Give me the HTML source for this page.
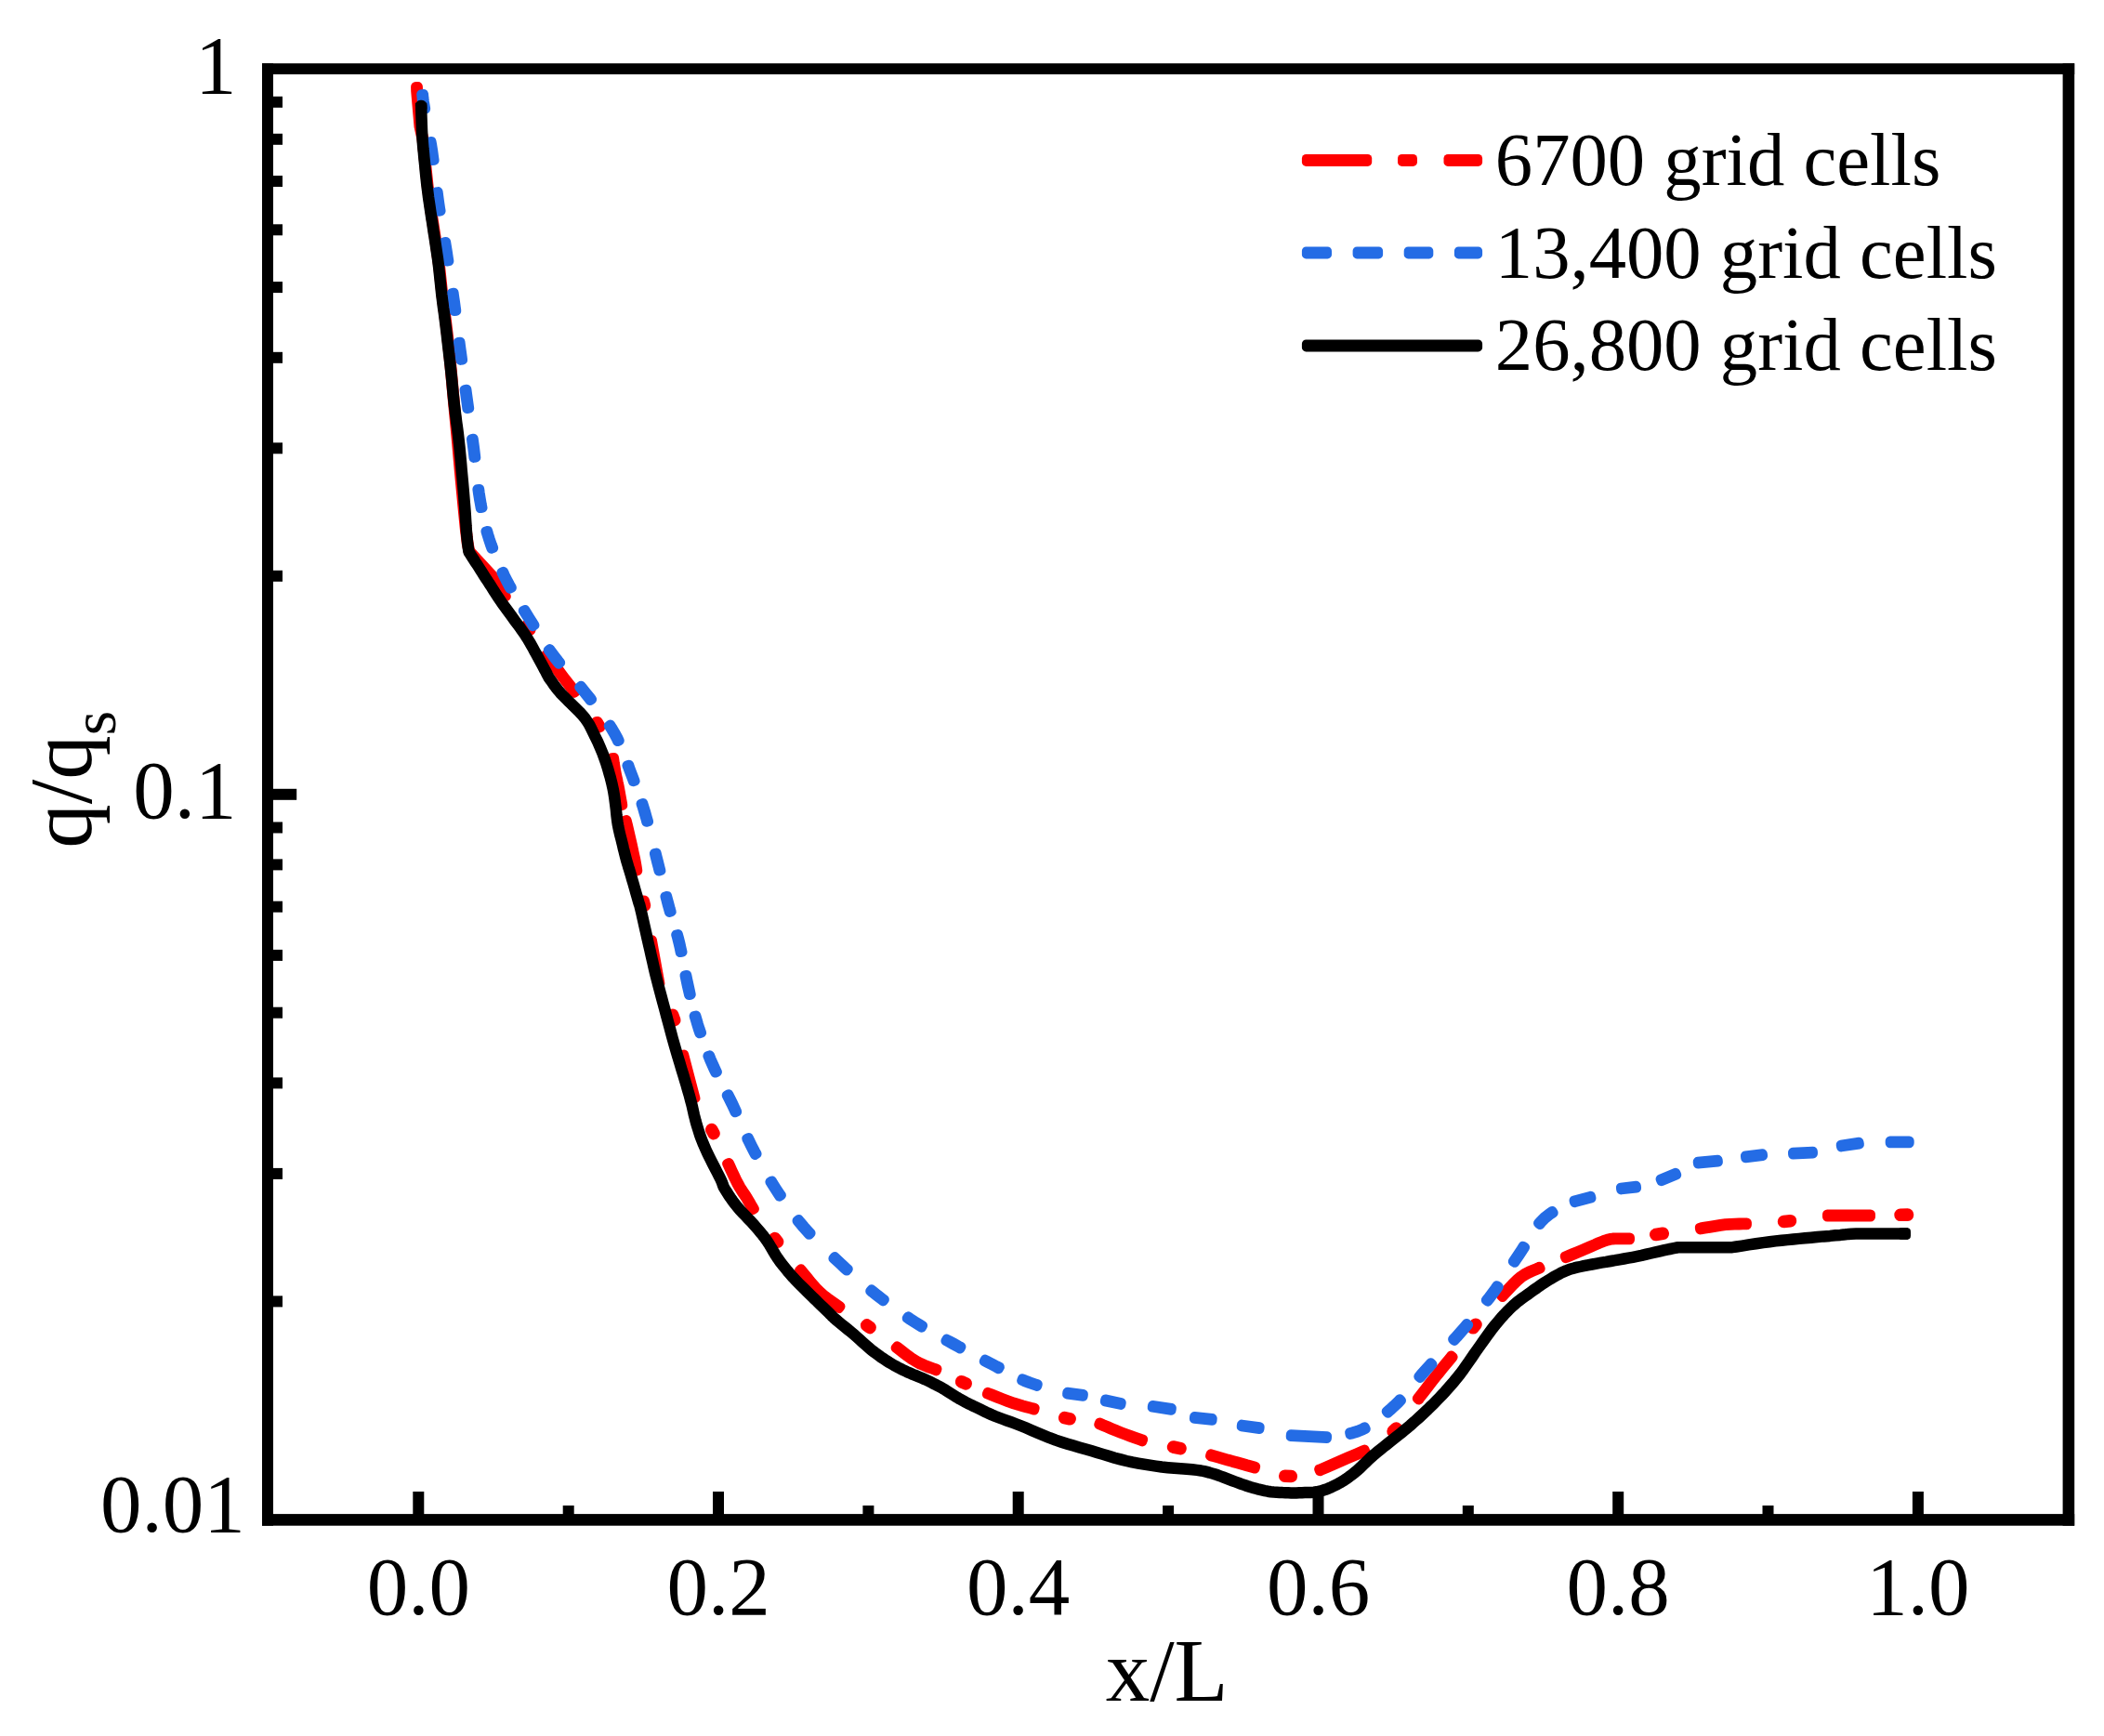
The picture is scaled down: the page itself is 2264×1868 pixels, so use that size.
<!DOCTYPE html>
<html lang="en"><head><meta charset="utf-8"><title>Grid independence: q/qs vs x/L</title>
<style>html,body{margin:0;padding:0;background:#fff}svg{display:block}</style></head>
<body>
<svg width="2264" height="1868" viewBox="0 0 2264 1868">
<rect width="2264" height="1868" fill="#fff"/>
<g id="red"><polygon points="447.3,93.2 447.4,98.1 450.7,136.1 453.8,150.2 456.2,174.1 459.2,202.7 463.2,231.2 467.6,259.8 471.6,288.1 474.6,316.8 478.3,345.1 481.7,373.8 484.1,398.1 487.5,436.1 491.1,474.1 494.5,512.1 498.1,550.1 500,569.1 502,585.2 504,594.2 528.7,620.7 542.5,643 544.6,641.8 530.5,619.3 506,592.8 504.4,584.8 502.4,568.9 500.5,549.9 496.9,511.9 493.5,473.9 489.9,435.9 486.5,397.9 484.1,373.6 480.7,344.9 477,316.6 474,287.9 470,259.4 465.6,230.8 461.6,202.5 458.6,173.9 456.2,149.8 453.1,135.9 449.8,97.9 449.7,93.2" fill="#FF0000" stroke="#FF0000" stroke-width="10.4" stroke-linejoin="round"/>
<polygon points="587.1,704.9 590.1,709.2 594.3,714.9 598.6,720.8 602.6,726.2 606.6,731.4 610.9,736.9 615,742.1 617.8,745.7 619.7,744.2 616.9,740.6 612.8,735.4 608.5,730 604.6,724.8 600.6,719.4 596.3,713.5 592.1,707.8 589,703.5" fill="#FF0000" stroke="#FF0000" stroke-width="10.4" stroke-linejoin="round"/>
<polygon points="658.4,815.5 658.6,816.9 659.3,821.3 660,825.9 660.7,830.2 661.5,834.2 662.3,838.1 663.2,842.1 664,846.1 664.8,850.2 665.7,854.8 666.5,859.9 667.4,864.8 667.7,867 670.1,866.6 669.8,864.4 668.9,859.5 668,854.4 667.2,849.8 666.4,845.6 665.5,841.6 664.7,837.6 663.8,833.7 663.1,829.8 662.4,825.5 661.6,820.9 661,816.5 660.8,815.2" fill="#FF0000" stroke="#FF0000" stroke-width="10.4" stroke-linejoin="round"/>
<polygon points="672,883 672.2,883.5 673.1,887.3 674.6,893.4 676.4,901.4 678.4,910.2 680.3,918.5 681.7,925.2 682.7,930.3 683.3,934.4 683.7,937.3 686.1,937 685.7,934.1 685,929.9 684.1,924.8 682.6,918 680.8,909.6 678.8,900.9 676.9,892.8 675.5,886.7 674.5,882.9 674.3,882.3" fill="#FF0000" stroke="#FF0000" stroke-width="10.4" stroke-linejoin="round"/>
<polygon points="699.4,1011.8 707.9,1058.7 710.2,1058.3 701.7,1011.4" fill="#FF0000" stroke="#FF0000" stroke-width="10.4" stroke-linejoin="round"/>
<polygon points="733.7,1135.3 746,1182.3 748.3,1181.7 736,1134.7" fill="#FF0000" stroke="#FF0000" stroke-width="10.4" stroke-linejoin="round"/>
<polygon points="782.3,1252.1 782.6,1252.8 784.2,1256.2 786.2,1260.7 788.5,1265.6 790.9,1270.4 793,1274.7 795.1,1278.3 797.1,1281.5 799.1,1284.5 801,1287.3 802.7,1290 804.2,1292.6 805.7,1295.1 807,1297.5 808.2,1299.6 809.3,1301.4 809.7,1302.1 811.7,1300.9 811.3,1300.2 810.3,1298.4 809.1,1296.3 807.8,1293.9 806.3,1291.4 804.7,1288.8 803,1286 801.1,1283.2 799.2,1280.2 797.1,1277 795.2,1273.5 793,1269.4 790.7,1264.5 788.4,1259.6 786.4,1255.2 784.8,1251.8 784.4,1251.1" fill="#FF0000" stroke="#FF0000" stroke-width="10.4" stroke-linejoin="round"/>
<polygon points="860.2,1367.1 860.7,1367.7 863.6,1371.2 867.5,1375.9 871.8,1381.2 876.4,1386.4 880.8,1391 885.3,1394.9 890.1,1398.6 894.8,1402 899,1405 902.2,1407.3 902.8,1407.7 904.3,1405.8 903.6,1405.3 900.4,1403 896.2,1400.1 891.5,1396.7 886.8,1393.1 882.4,1389.2 878.1,1384.8 873.6,1379.7 869.3,1374.4 865.5,1369.7 862.5,1366.1 862,1365.5" fill="#FF0000" stroke="#FF0000" stroke-width="10.4" stroke-linejoin="round"/>
<polygon points="963.8,1450.5 964.5,1451 967.6,1453.4 971.7,1456.5 976.3,1460 981.1,1463.4 985.6,1466.2 990.1,1468.5 994.9,1470.5 999.4,1472.3 1003.5,1473.7 1006.7,1474.9 1007.4,1475.2 1008.3,1473 1007.5,1472.7 1004.3,1471.5 1000.3,1470 995.7,1468.3 991.1,1466.4 986.8,1464.2 982.4,1461.4 977.7,1458.1 973.2,1454.6 969.1,1451.4 965.9,1449 965.3,1448.6" fill="#FF0000" stroke="#FF0000" stroke-width="10.4" stroke-linejoin="round"/>
<polygon points="1062,1500.2 1062.8,1500.5 1067,1502.2 1072.5,1504.3 1078.6,1506.7 1084.8,1509.1 1090.3,1511 1095.3,1512.6 1100.2,1514 1104.8,1515.3 1108.9,1516.3 1112.1,1517.2 1112.8,1517.4 1113.5,1515.1 1112.7,1514.8 1109.5,1514 1105.5,1512.9 1100.9,1511.7 1096,1510.3 1091.1,1508.8 1085.6,1506.8 1079.5,1504.5 1073.3,1502.1 1067.8,1499.9 1063.6,1498.3 1062.9,1498" fill="#FF0000" stroke="#FF0000" stroke-width="10.4" stroke-linejoin="round"/>
<polygon points="1182.4,1532.9 1183.1,1533.2 1186.6,1534.7 1191,1536.5 1196,1538.7 1201.1,1540.8 1206,1542.7 1210.8,1544.5 1215.8,1546.4 1220.7,1548.2 1225,1549.7 1228.4,1550.9 1229.1,1551.2 1230,1548.9 1229.2,1548.7 1225.8,1547.4 1221.5,1545.9 1216.6,1544.1 1211.6,1542.3 1206.8,1540.5 1202,1538.6 1196.9,1536.4 1192,1534.3 1187.5,1532.5 1184.1,1531 1183.3,1530.7" fill="#FF0000" stroke="#FF0000" stroke-width="10.4" stroke-linejoin="round"/>
<polygon points="1302.2,1566.8 1303,1567.1 1306.4,1568 1310.9,1569.3 1315.8,1570.7 1321,1572.2 1325.9,1573.6 1330.9,1574.9 1336.2,1576.4 1341.4,1577.9 1346,1579.2 1349.6,1580.2 1350.3,1580.4 1351,1578.1 1350.2,1577.8 1346.6,1576.8 1342,1575.6 1336.8,1574.1 1331.5,1572.6 1326.5,1571.2 1321.6,1569.9 1316.5,1568.4 1311.5,1567 1307.1,1565.7 1303.6,1564.7 1302.9,1564.5" fill="#FF0000" stroke="#FF0000" stroke-width="10.4" stroke-linejoin="round"/>
<polygon points="1420.2,1583.1 1421.5,1582.6 1428.8,1579.4 1439.1,1575 1450.4,1570.1 1460.6,1565.7 1468,1562.5 1469.2,1562 1468.3,1559.8 1467,1560.3 1459.7,1563.5 1449.4,1567.9 1438.1,1572.8 1427.9,1577.2 1420.5,1580.4 1419.3,1580.9" fill="#FF0000" stroke="#FF0000" stroke-width="10.4" stroke-linejoin="round"/>
<polygon points="1526.9,1506.3 1527.3,1505.6 1530.1,1502.1 1533.6,1497.6 1537.6,1492.4 1541.6,1487.2 1545.4,1482.3 1549.2,1477.7 1553.1,1472.8 1556.9,1468.2 1560.3,1464.1 1562.9,1460.9 1563.4,1460.2 1561.6,1458.7 1561.1,1459.3 1558.5,1462.5 1555.1,1466.6 1551.3,1471.3 1547.3,1476.2 1543.6,1480.9 1539.7,1485.7 1535.7,1490.9 1531.7,1496.1 1528.2,1500.7 1525.5,1504.2 1525,1504.8" fill="#FF0000" stroke="#FF0000" stroke-width="10.4" stroke-linejoin="round"/>
<polygon points="1616.8,1395.8 1617.4,1395.2 1620.4,1392 1624.4,1387.7 1628.8,1383 1633.4,1378.5 1637.5,1375 1641.6,1372.3 1645.8,1370.1 1650,1368.3 1653.7,1366.7 1656.7,1365.4 1657.5,1365 1656.4,1362.9 1655.7,1363.2 1652.8,1364.5 1649,1366.1 1644.8,1367.9 1640.4,1370.2 1636.1,1373 1631.7,1376.8 1627.1,1381.3 1622.6,1386.1 1618.7,1390.4 1615.6,1393.6 1615.1,1394.1" fill="#FF0000" stroke="#FF0000" stroke-width="10.4" stroke-linejoin="round"/>
<polygon points="1684.8,1354 1685.6,1353.7 1688.8,1352.4 1692.9,1350.7 1697.5,1348.7 1702.3,1346.7 1707,1344.8 1711.6,1342.8 1716.5,1340.6 1721.3,1338.5 1725.8,1336.7 1729.6,1335.3 1732.8,1334.6 1735.5,1334.2 1738,1334.1 1740.3,1334.1 1742.6,1334.1 1745,1334 1747.2,1334 1749.3,1334 1751.2,1334.1 1753,1334.1 1753.8,1334.1 1753.8,1331.7 1753,1331.7 1751.3,1331.7 1749.3,1331.6 1747.2,1331.6 1744.9,1331.6 1742.6,1331.7 1740.3,1331.7 1737.9,1331.7 1735.3,1331.8 1732.4,1332.2 1729,1333.1 1724.9,1334.5 1720.3,1336.3 1715.5,1338.5 1710.6,1340.6 1706,1342.6 1701.4,1344.5 1696.6,1346.5 1692,1348.4 1687.9,1350.1 1684.6,1351.5 1683.9,1351.8" fill="#FF0000" stroke="#FF0000" stroke-width="10.4" stroke-linejoin="round"/>
<polygon points="1829.4,1323.2 1830.2,1323.1 1834.3,1322.4 1839.6,1321.5 1845.5,1320.5 1851.5,1319.6 1856.8,1318.9 1861.8,1318.5 1866.7,1318.3 1871.4,1318.2 1875.6,1318.1 1878.9,1318 1879.7,1318 1879.7,1315.6 1878.9,1315.6 1875.5,1315.7 1871.4,1315.8 1866.6,1315.9 1861.6,1316.1 1856.6,1316.5 1851.1,1317.2 1845.2,1318.1 1839.2,1319.1 1833.9,1320 1829.8,1320.7 1829,1320.8" fill="#FF0000" stroke="#FF0000" stroke-width="10.4" stroke-linejoin="round"/>
<polygon points="1966.2,1309.2 2012.8,1309.2 2012.8,1306.8 1966.2,1306.8" fill="#FF0000" stroke="#FF0000" stroke-width="10.4" stroke-linejoin="round"/>
<polygon points="567,673.6 569.7,677.6 570,677.4 567.3,673.4" fill="#FF0000" stroke="#FF0000" stroke-width="13.2" stroke-linejoin="round"/>
<polygon points="642.1,777.7 644.6,781.9 644.9,781.7 642.4,777.5" fill="#FF0000" stroke="#FF0000" stroke-width="13.2" stroke-linejoin="round"/>
<polygon points="692.2,970.2 693.2,974.4 693.6,974.4 692.6,970.2" fill="#FF0000" stroke="#FF0000" stroke-width="13.2" stroke-linejoin="round"/>
<polygon points="723.5,1092.3 725.5,1097.8 725.9,1097.7 723.9,1092.2" fill="#FF0000" stroke="#FF0000" stroke-width="13.2" stroke-linejoin="round"/>
<polygon points="765.6,1215.6 767.9,1219.8 768.2,1219.6 765.9,1215.4" fill="#FF0000" stroke="#FF0000" stroke-width="13.2" stroke-linejoin="round"/>
<polygon points="833.6,1332.6 836.5,1336.4 836.8,1336.2 833.9,1332.4" fill="#FF0000" stroke="#FF0000" stroke-width="13.2" stroke-linejoin="round"/>
<polygon points="932.5,1426.1 936,1428.6 936.3,1428.3 932.8,1425.8" fill="#FF0000" stroke="#FF0000" stroke-width="13.2" stroke-linejoin="round"/>
<polygon points="1034.4,1486.9 1039.2,1489.1 1039.4,1488.7 1034.6,1486.5" fill="#FF0000" stroke="#FF0000" stroke-width="13.2" stroke-linejoin="round"/>
<polygon points="1145.5,1525.8 1151.2,1527 1151.3,1526.6 1145.6,1525.4" fill="#FF0000" stroke="#FF0000" stroke-width="13.2" stroke-linejoin="round"/>
<polygon points="1262.4,1557.2 1270.1,1558.8 1270.2,1558.4 1262.5,1556.8" fill="#FF0000" stroke="#FF0000" stroke-width="13.2" stroke-linejoin="round"/>
<polygon points="1382.6,1588.5 1389.4,1588.7 1389.4,1588.3 1382.6,1588.1" fill="#FF0000" stroke="#FF0000" stroke-width="13.2" stroke-linejoin="round"/>
<polygon points="1499.2,1540.4 1502.7,1537.1 1502.4,1536.8 1498.9,1540.1" fill="#FF0000" stroke="#FF0000" stroke-width="13.2" stroke-linejoin="round"/>
<polygon points="1585.1,1429 1588.2,1425.3 1587.9,1425 1584.8,1428.7" fill="#FF0000" stroke="#FF0000" stroke-width="13.2" stroke-linejoin="round"/>
<polygon points="1781.7,1328.7 1789.4,1327.5 1789.3,1327.1 1781.6,1328.3" fill="#FF0000" stroke="#FF0000" stroke-width="13.2" stroke-linejoin="round"/>
<polygon points="1919.4,1314.7 1926.6,1313.9 1926.6,1313.5 1919.4,1314.3" fill="#FF0000" stroke="#FF0000" stroke-width="13.2" stroke-linejoin="round"/>
<polygon points="2044.9,1307.5 2052.7,1307.3 2052.7,1306.9 2044.9,1307.1" fill="#FF0000" stroke="#FF0000" stroke-width="13.2" stroke-linejoin="round"/></g>
<g id="blue"><polygon points="453.4,101.4 453.5,101.8 453.8,105.4 454.3,109.6 455.1,114.6 455.6,117.6 458,117.2 457.5,114.2 456.7,109.2 456.2,105.1 455.9,101.6 455.8,101.3" fill="#246CE5" stroke="#246CE5" stroke-width="10.4" stroke-linejoin="round"/>
<polygon points="462,152.5 462.5,155.8 463.6,162.7 464.6,169.4 465,172.9 467.4,172.6 466.9,169.1 466,162.3 464.9,155.4 464.3,152.1" fill="#246CE5" stroke="#246CE5" stroke-width="10.4" stroke-linejoin="round"/>
<polygon points="469,206.6 469.5,210.3 470.4,217.1 471.4,223.8 472,227.5 474.4,227.1 473.8,223.5 472.8,216.7 471.9,210 471.4,206.3" fill="#246CE5" stroke="#246CE5" stroke-width="10.4" stroke-linejoin="round"/>
<polygon points="477.5,260.6 478.1,264.2 479.2,271 480.3,277.7 480.9,281.4 483.2,281 482.6,277.4 481.6,270.6 480.5,263.9 479.9,260.2" fill="#246CE5" stroke="#246CE5" stroke-width="10.4" stroke-linejoin="round"/>
<polygon points="486,315.4 486.5,318.4 487.4,325.1 488.3,331.7 488.7,334.8 491.1,334.5 490.7,331.4 489.8,324.7 488.8,318 488.4,315" fill="#246CE5" stroke="#246CE5" stroke-width="10.4" stroke-linejoin="round"/>
<polygon points="493,368.2 493.4,371.4 494.2,378 495.1,384.5 495.5,387.7 497.9,387.4 497.5,384.1 496.6,377.6 495.7,371.1 495.3,367.9" fill="#246CE5" stroke="#246CE5" stroke-width="10.4" stroke-linejoin="round"/>
<polygon points="499.8,419.4 500.3,423.1 501.2,429.6 502.1,436.1 502.6,439.8 505,439.4 504.5,435.8 503.6,429.2 502.7,422.7 502.2,419" fill="#246CE5" stroke="#246CE5" stroke-width="10.4" stroke-linejoin="round"/>
<polygon points="507.2,472.3 507.6,475.8 508.5,482.5 509.3,489.2 509.7,492.7 512.1,492.4 511.7,488.9 510.9,482.1 510,475.5 509.5,471.9" fill="#246CE5" stroke="#246CE5" stroke-width="10.4" stroke-linejoin="round"/>
<polygon points="513.6,526.5 514.1,530.4 515.1,536.7 516.2,542.7 516.9,546.9 519.3,546.4 518.5,542.3 517.5,536.3 516.5,530 516,526.2" fill="#246CE5" stroke="#246CE5" stroke-width="10.4" stroke-linejoin="round"/>
<polygon points="522.6,571.7 523.8,575.7 525.5,581.2 527.3,586.7 528.7,590.5 531,589.6 529.6,585.9 527.7,580.4 526,575 524.9,571.1" fill="#246CE5" stroke="#246CE5" stroke-width="10.4" stroke-linejoin="round"/>
<polygon points="539.6,616 541.3,619.5 543.9,624.8 546.7,630.1 548.6,633.5 550.7,632.4 548.8,629 546.1,623.8 543.4,618.5 541.8,615" fill="#246CE5" stroke="#246CE5" stroke-width="10.4" stroke-linejoin="round"/>
<polygon points="562.9,657.3 564.9,660.5 568.1,665.6 571.3,670.8 573.2,674 575.3,672.7 573.3,669.5 570.1,664.4 566.9,659.3 564.9,656.1" fill="#246CE5" stroke="#246CE5" stroke-width="10.4" stroke-linejoin="round"/>
<polygon points="589.9,699.7 591.6,702.1 595.3,707.2 599.3,712.3 601.2,714.5 603,713 601.2,710.8 597.3,705.8 593.5,700.7 591.8,698.3" fill="#246CE5" stroke="#246CE5" stroke-width="10.4" stroke-linejoin="round"/>
<polygon points="623.4,739.5 625.1,741.6 629.3,746.7 633.3,751.8 635,753.9 636.9,752.5 635.2,750.3 631.1,745.1 627,740.1 625.2,738" fill="#246CE5" stroke="#246CE5" stroke-width="10.4" stroke-linejoin="round"/>
<polygon points="654.9,781 656.8,783.9 660,789.3 662.8,794.6 664.4,797.9 666.6,796.9 665,793.5 662,788.1 658.8,782.7 656.9,779.7" fill="#246CE5" stroke="#246CE5" stroke-width="10.4" stroke-linejoin="round"/>
<polygon points="674.6,823.7 675.9,827 677.9,832.4 679.9,837.7 681.2,841.1 683.4,840.3 682.1,836.8 680.1,831.6 678.1,826.2 676.9,822.9" fill="#246CE5" stroke="#246CE5" stroke-width="10.4" stroke-linejoin="round"/>
<polygon points="689.7,864.9 691,868.9 692.7,874.7 694.5,880.9 695.5,884.6 697.9,884 696.8,880.3 695.1,874.1 693.3,868.2 692,864.2" fill="#246CE5" stroke="#246CE5" stroke-width="10.4" stroke-linejoin="round"/>
<polygon points="704.1,918.4 704.8,921.5 706.4,927.9 708,934 708.8,937.4 711.2,936.8 710.3,933.4 708.8,927.3 707.2,921 706.4,917.8" fill="#246CE5" stroke="#246CE5" stroke-width="10.4" stroke-linejoin="round"/>
<polygon points="715.6,964.7 716.4,967.7 717.8,973.2 719.3,978.6 720.2,981.7 722.5,981 721.6,978 720.2,972.6 718.7,967.1 717.9,964.1" fill="#246CE5" stroke="#246CE5" stroke-width="10.4" stroke-linejoin="round"/>
<polygon points="727.4,1005.9 728.5,1010 729.8,1015.4 731.1,1020.9 731.9,1024.9 734.3,1024.4 733.4,1020.3 732.2,1014.8 730.8,1009.4 729.7,1005.3" fill="#246CE5" stroke="#246CE5" stroke-width="10.4" stroke-linejoin="round"/>
<polygon points="736.7,1049.7 737.7,1054.7 738.9,1060.3 740.1,1065.7 741.3,1070.8 743.6,1070.3 742.5,1065.2 741.3,1059.7 740.1,1054.2 739.1,1049.2" fill="#246CE5" stroke="#246CE5" stroke-width="10.4" stroke-linejoin="round"/>
<polygon points="746.8,1093.3 748,1097.4 749.6,1102.8 751.2,1108.1 752.6,1112.1 754.9,1111.3 753.5,1107.3 751.8,1102 750.3,1096.8 749.1,1092.7" fill="#246CE5" stroke="#246CE5" stroke-width="10.4" stroke-linejoin="round"/>
<polygon points="761.6,1136.4 763.1,1140.2 765.4,1145.5 767.8,1150.8 769.5,1154.4 771.7,1153.4 770,1149.8 767.6,1144.5 765.3,1139.2 763.8,1135.5" fill="#246CE5" stroke="#246CE5" stroke-width="10.4" stroke-linejoin="round"/>
<polygon points="781.9,1178.6 783.8,1182.4 786.5,1187.8 789.1,1193.4 790.8,1197.1 793,1196.2 791.3,1192.4 788.7,1186.8 786,1181.3 784.1,1177.5" fill="#246CE5" stroke="#246CE5" stroke-width="10.4" stroke-linejoin="round"/>
<polygon points="803.4,1225.2 804.9,1228.3 807.7,1234 810.7,1239.8 812.3,1242.8 814.4,1241.6 812.8,1238.7 809.9,1233 807,1227.2 805.6,1224.2" fill="#246CE5" stroke="#246CE5" stroke-width="10.4" stroke-linejoin="round"/>
<polygon points="828.6,1271.8 830.1,1274.2 833.6,1279.7 837.1,1285.1 838.7,1287.5 840.7,1286.2 839.1,1283.8 835.6,1278.5 832.1,1273 830.7,1270.6" fill="#246CE5" stroke="#246CE5" stroke-width="10.4" stroke-linejoin="round"/>
<polygon points="857.7,1313.7 859.7,1316.2 864,1321.3 868.5,1326.4 870.6,1328.6 872.4,1326.9 870.3,1324.8 865.8,1319.7 861.6,1314.7 859.6,1312.2" fill="#246CE5" stroke="#246CE5" stroke-width="10.4" stroke-linejoin="round"/>
<polygon points="896.6,1354.1 898.8,1356.1 903.8,1360.8 908.7,1365.3 911,1367.4 912.6,1365.6 910.3,1363.6 905.4,1359 900.4,1354.4 898.2,1352.3" fill="#246CE5" stroke="#246CE5" stroke-width="10.4" stroke-linejoin="round"/>
<polygon points="936.4,1389.3 938.3,1390.9 943.3,1394.8 948.3,1398.7 950.2,1400.2 951.7,1398.3 949.7,1396.8 944.7,1393 939.8,1389 937.9,1387.5" fill="#246CE5" stroke="#246CE5" stroke-width="10.4" stroke-linejoin="round"/>
<polygon points="975.9,1418.5 978.6,1420.3 983.8,1423.6 988.9,1426.8 991.7,1428.5 992.9,1426.4 990.2,1424.8 985,1421.6 979.9,1418.3 977.3,1416.5" fill="#246CE5" stroke="#246CE5" stroke-width="10.4" stroke-linejoin="round"/>
<polygon points="1017.6,1442.9 1020.1,1444.2 1025.3,1447.1 1030.5,1449.9 1033.1,1451.3 1034.2,1449.1 1031.7,1447.8 1026.5,1444.9 1021.3,1442.1 1018.7,1440.8" fill="#246CE5" stroke="#246CE5" stroke-width="10.4" stroke-linejoin="round"/>
<polygon points="1058.9,1464.9 1061.6,1466.3 1066.7,1469 1071.8,1471.6 1074.5,1473.1 1075.7,1470.9 1072.9,1469.5 1067.9,1466.8 1062.7,1464.2 1060,1462.8" fill="#246CE5" stroke="#246CE5" stroke-width="10.4" stroke-linejoin="round"/>
<polygon points="1099.3,1485.6 1102,1486.8 1107.5,1488.9 1113.3,1490.9 1115.9,1491.7 1116.6,1489.4 1114.1,1488.6 1108.3,1486.7 1102.9,1484.6 1100.2,1483.4" fill="#246CE5" stroke="#246CE5" stroke-width="10.4" stroke-linejoin="round"/>
<polygon points="1148.3,1500.4 1165.4,1502.6 1165.7,1500.2 1148.6,1498" fill="#246CE5" stroke="#246CE5" stroke-width="10.4" stroke-linejoin="round"/>
<polygon points="1189,1508.1 1206.1,1511.7 1206.6,1509.3 1189.5,1505.7" fill="#246CE5" stroke="#246CE5" stroke-width="10.4" stroke-linejoin="round"/>
<polygon points="1239.9,1514.4 1260.3,1517.5 1260.7,1515.2 1240.3,1512.1" fill="#246CE5" stroke="#246CE5" stroke-width="10.4" stroke-linejoin="round"/>
<polygon points="1285.1,1526.6 1304.3,1528.6 1304.5,1526.2 1285.3,1524.2" fill="#246CE5" stroke="#246CE5" stroke-width="10.4" stroke-linejoin="round"/>
<polygon points="1335.9,1535.2 1355.2,1537.8 1355.5,1535.4 1336.2,1532.8" fill="#246CE5" stroke="#246CE5" stroke-width="10.4" stroke-linejoin="round"/>
<polygon points="1388.9,1545.9 1427.7,1547.8 1427.9,1545.4 1389.1,1543.5" fill="#246CE5" stroke="#246CE5" stroke-width="10.4" stroke-linejoin="round"/>
<polygon points="1452.8,1543.7 1455.5,1543.1 1461.4,1541.2 1467,1538.9 1469.6,1537.6 1468.5,1535.5 1466.1,1536.7 1460.6,1539 1454.8,1540.8 1452.3,1541.3" fill="#246CE5" stroke="#246CE5" stroke-width="10.4" stroke-linejoin="round"/>
<polygon points="1493.5,1520.5 1496.3,1518.1 1500.8,1514 1505.3,1509.7 1507.8,1507 1506.1,1505.4 1503.6,1508 1499.2,1512.2 1494.7,1516.3 1491.9,1518.7" fill="#246CE5" stroke="#246CE5" stroke-width="10.4" stroke-linejoin="round"/>
<polygon points="1528.3,1482.7 1530.3,1480.3 1534.7,1475.3 1539.3,1470.3 1541.3,1468.1 1539.5,1466.5 1537.5,1468.7 1532.9,1473.7 1528.5,1478.7 1526.5,1481.2" fill="#246CE5" stroke="#246CE5" stroke-width="10.4" stroke-linejoin="round"/>
<polygon points="1565,1442.7 1568,1439.5 1572.6,1434.3 1577.1,1429.1 1580,1425.7 1578.2,1424.2 1575.3,1427.6 1570.8,1432.7 1566.2,1437.9 1563.3,1441.1" fill="#246CE5" stroke="#246CE5" stroke-width="10.4" stroke-linejoin="round"/>
<polygon points="1600.9,1400.5 1602.9,1398 1606.9,1392.7 1610.7,1387.4 1612.6,1384.7 1610.6,1383.4 1608.8,1386 1604.9,1391.3 1601,1396.5 1599,1399" fill="#246CE5" stroke="#246CE5" stroke-width="10.4" stroke-linejoin="round"/>
<polygon points="1630,1358.6 1632,1355.6 1635.5,1350.5 1639,1345.2 1640.9,1342.2 1638.8,1340.9 1637,1343.9 1633.5,1349.1 1630,1354.3 1628,1357.3" fill="#246CE5" stroke="#246CE5" stroke-width="10.4" stroke-linejoin="round"/>
<polygon points="1657.1,1317.8 1659.7,1314.7 1663.7,1310.8 1668,1307.4 1671.5,1305.1 1670.2,1303.1 1666.6,1305.5 1662.1,1309 1657.9,1313.1 1655.2,1316.2" fill="#246CE5" stroke="#246CE5" stroke-width="10.4" stroke-linejoin="round"/>
<polygon points="1694.3,1294.1 1712.3,1289.3 1711.7,1286.9 1693.7,1291.7" fill="#246CE5" stroke="#246CE5" stroke-width="10.4" stroke-linejoin="round"/>
<polygon points="1744.4,1280.2 1760.9,1278.4 1760.6,1276 1744.1,1277.8" fill="#246CE5" stroke="#246CE5" stroke-width="10.4" stroke-linejoin="round"/>
<polygon points="1787.8,1271 1804,1264.2 1803,1262 1786.8,1268.8" fill="#246CE5" stroke="#246CE5" stroke-width="10.4" stroke-linejoin="round"/>
<polygon points="1827.2,1252.4 1848.7,1250.4 1848.4,1248 1826.9,1250" fill="#246CE5" stroke="#246CE5" stroke-width="10.4" stroke-linejoin="round"/>
<polygon points="1878.4,1246.1 1896.9,1243.9 1896.6,1241.5 1878.1,1243.7" fill="#246CE5" stroke="#246CE5" stroke-width="10.4" stroke-linejoin="round"/>
<polygon points="1929.3,1242.3 1950.8,1241.3 1950.7,1238.9 1929.2,1239.9" fill="#246CE5" stroke="#246CE5" stroke-width="10.4" stroke-linejoin="round"/>
<polygon points="1981.3,1234.2 2000.7,1231.4 2000.3,1229 1980.9,1231.8" fill="#246CE5" stroke="#246CE5" stroke-width="10.4" stroke-linejoin="round"/>
<polygon points="2033.9,1230.1 2054.5,1230.1 2054.5,1227.7 2033.9,1227.7" fill="#246CE5" stroke="#246CE5" stroke-width="10.4" stroke-linejoin="round"/></g>
<polyline points="453.1,110.8 453.1,111.9 453.2,114.5 453.3,118.3 453.4,123.2 453.6,128.7 453.8,134.5 454,140.3 454.3,145.6 454.6,150.5 455,155.3 455.4,160 455.9,164.6 456.3,169.3 456.8,174 457.3,178.8 457.7,183.5 458.2,188.3 458.7,193.1 459.2,197.8 459.8,202.6 460.4,207.3 461,212.1 461.7,216.8 462.4,221.5 463.1,226.3 463.8,231 464.5,235.8 465.3,240.5 466,245.3 466.7,250.1 467.5,254.8 468.2,259.6 468.9,264.3 469.6,269.1 470.3,273.8 471,278.5 471.6,283.3 472.2,288 472.7,292.8 473.2,297.6 473.7,302.4 474.2,307.2 474.7,311.9 475.2,316.7 475.8,321.4 476.4,326.1 477,330.9 477.7,335.6 478.3,340.3 478.9,345 479.5,349.8 480.1,354.7 480.7,359.6 481.2,364.4 481.8,369.2 482.3,373.7 482.8,377.8 483.2,381.6 483.7,385.3 484.1,389 484.6,393.2 485.1,398 485.7,403.5 486.3,409.7 486.9,416.1 487.5,422.8 488.2,429.5 488.9,436 489.7,442.3 490.5,448.7 491.3,455 492.2,461.3 493,467.7 493.7,474 494.4,480.3 495,486.7 495.6,493 496.2,499.3 496.7,505.7 497.3,512 497.9,518.6 498.5,525.4 499.1,532.2 499.6,538.7 500.1,544.8 500.5,550 500.8,554.3 501,557.9 501.2,560.9 501.4,563.6 501.5,566.2 501.7,569 501.9,571.9 502.2,574.8 502.4,577.6 502.7,580.3 503,582.8 503.2,585 503.5,587 503.7,588.9 504,590.5 504.2,591.9 504.4,593.1 504.6,594 505.8,595.8 507.4,598.3 509.3,601.2 511.3,604.4 513.4,607.5 515.3,610.5 517.1,613.3 518.9,616.1 520.6,618.8 522.4,621.7 524.3,624.5 526.2,627.5 528.2,630.5 530.2,633.7 532.2,636.9 534.3,640.1 536.4,643.3 538.6,646.5 540.8,649.7 543.1,652.9 545.4,656 547.8,659.2 550.1,662.4 552.4,665.6 554.7,668.8 557,671.9 559.4,675.1 561.7,678.3 563.9,681.4 566,684.6 568,687.8 569.9,690.9 571.7,694.1 573.5,697.3 575.2,700.4 577,703.6 578.8,706.9 580.7,710.4 582.6,713.9 584.3,717.2 585.9,720.2 587.2,722.6 588.2,724.5 588.9,725.9 589.5,727 589.9,727.8 590.2,728.4 590.5,729 591.6,730.5 593.1,732.6 594.8,735.1 596.7,737.8 598.7,740.4 600.5,742.7 602.2,744.6 603.7,746.4 605.3,748 607,749.8 609,751.7 611.2,754 613.9,756.7 617.1,759.8 620.4,763 623.8,766.4 626.9,769.7 629.6,773 631.8,776.2 633.8,779.3 635.5,782.5 637,785.7 638.6,788.8 640.1,792 641.7,795.2 643.2,798.3 644.6,801.5 646,804.7 647.3,807.8 648.6,811 649.8,814.2 650.9,817.3 652,820.5 653,823.7 654,826.8 654.9,830 655.8,833.2 656.7,836.3 657.5,839.5 658.3,842.7 659,845.8 659.7,849 660.3,852.2 660.8,855.3 661.3,858.5 661.7,861.7 662.1,864.8 662.5,868 662.9,871.2 663.2,874.3 663.5,877.5 663.9,880.7 664.3,883.8 664.8,887 665.4,890.2 666.1,893.3 666.8,896.5 667.6,899.7 668.4,902.8 669.2,906 670,909.2 670.7,912.4 671.5,915.6 672.3,918.8 673.1,921.9 673.9,925 674.7,927.8 675.5,930.4 676.2,932.9 677.1,935.6 678,938.6 679,942 680.2,946.3 681.7,951.3 683.2,956.6 684.6,961.7 686,966.4 687,970 687.6,972.1 688,973 688.1,973.4 688.3,973.9 688.6,975.2 689.3,978 690.4,982.6 691.7,988.4 693.2,995.1 694.8,1002.2 696.4,1009.3 697.9,1016 699.4,1022.3 700.8,1028.7 702.3,1035 703.7,1041.3 705.2,1047.7 706.8,1054 708.4,1060.3 710.1,1066.7 711.8,1073 713.5,1079.3 715.2,1085.7 716.9,1092 718.6,1098.3 720.3,1104.7 722,1111 723.7,1117.3 725.5,1123.7 727.3,1130 729.2,1136.6 731.3,1143.4 733.3,1150.2 735.3,1156.7 737.1,1162.8 738.7,1168 739.9,1172.3 740.9,1175.7 741.8,1178.7 742.5,1181.4 743.2,1184.1 744,1187 744.8,1190.2 745.5,1193.3 746.2,1196.5 746.9,1199.7 747.7,1202.8 748.5,1206 749.4,1209.2 750.3,1212.3 751.3,1215.5 752.3,1218.7 753.3,1221.8 754.5,1225 755.7,1228.1 756.9,1231.1 758.2,1234.1 759.6,1237.2 761.1,1240.5 762.8,1244 764.8,1248 767,1252.4 769.4,1257 771.7,1261.5 773.8,1265.6 775.5,1269 776.6,1271.5 777.3,1273.3 777.7,1274.6 778.2,1275.9 778.8,1277.4 780,1279.5 781.7,1282.2 783.6,1285.2 785.8,1288.5 788.2,1291.9 790.7,1295.2 793.3,1298.5 796,1301.7 799,1304.9 802,1308.1 805.1,1311.3 808.1,1314.4 810.9,1317.5 813.5,1320.5 815.9,1323.3 818.3,1326.1 820.6,1328.9 822.8,1331.8 825,1334.8 827.1,1337.9 829,1341.1 830.9,1344.3 832.8,1347.6 834.8,1350.9 837,1354.2 839.4,1357.6 842,1361 844.8,1364.4 847.6,1367.9 850.5,1371.3 853.4,1374.6 856.4,1377.8 859.5,1381 862.7,1384.2 865.9,1387.3 869.1,1390.4 872.3,1393.6 875.6,1396.9 879.2,1400.3 882.7,1403.8 886.1,1407.1 889.2,1410.1 891.8,1412.6 893.7,1414.5 895,1415.7 895.9,1416.7 896.9,1417.6 898.1,1418.8 900,1420.4 902.5,1422.5 905.5,1425 908.8,1427.7 912.3,1430.5 915.7,1433.3 919,1436.1 922.2,1438.9 925.3,1441.7 928.5,1444.6 931.7,1447.4 934.8,1450.2 938,1452.8 941.2,1455.3 944.3,1457.6 947.5,1459.9 950.7,1462 953.8,1464.1 957,1466.1 960.2,1468 963.3,1469.8 966.5,1471.5 969.7,1473.1 972.8,1474.7 976,1476.2 979.2,1477.6 982.4,1479 985.5,1480.2 988.7,1481.5 991.9,1482.8 995.1,1484.2 998.3,1485.7 1001.4,1487.2 1004.6,1488.8 1007.8,1490.4 1010.9,1492.1 1014.1,1493.8 1017.3,1495.7 1020.4,1497.7 1023.6,1499.7 1026.8,1501.7 1029.9,1503.7 1033.1,1505.6 1036.3,1507.3 1039.4,1509 1042.6,1510.6 1045.8,1512.1 1048.9,1513.7 1052.1,1515.2 1055.2,1516.7 1058.1,1518.1 1061.1,1519.6 1064.2,1521 1067.5,1522.5 1071.1,1524 1075,1525.5 1079.1,1527 1083.4,1528.6 1087.9,1530.2 1092.8,1532 1098,1534 1103.7,1536.3 1109.8,1538.9 1116.3,1541.7 1122.9,1544.5 1129.5,1547.2 1136,1549.6 1142.3,1551.7 1148.7,1553.7 1155,1555.6 1161.4,1557.4 1167.8,1559.2 1174.1,1561 1180.4,1562.9 1186.8,1564.9 1193.1,1566.8 1199.4,1568.7 1205.8,1570.4 1212.1,1572 1218.4,1573.4 1224.8,1574.6 1231.1,1575.7 1237.4,1576.7 1243.8,1577.6 1250.1,1578.5 1256.7,1579.2 1263.5,1579.8 1270.3,1580.3 1276.8,1580.8 1282.9,1581.3 1288.1,1581.9 1292.4,1582.5 1295.8,1583.2 1298.8,1583.9 1301.5,1584.6 1304.1,1585.4 1307.1,1586.3 1310.3,1587.3 1313.5,1588.5 1316.6,1589.7 1319.8,1590.9 1323,1592.1 1326.2,1593.3 1329.4,1594.5 1332.5,1595.6 1335.7,1596.8 1338.9,1597.9 1342,1599 1345.2,1600 1348.4,1600.9 1351.5,1601.8 1354.7,1602.7 1357.9,1603.4 1361,1604.1 1364.2,1604.7 1367.4,1605.2 1370.6,1605.5 1373.8,1605.7 1377,1605.9 1380.1,1606.1 1383.2,1606.2 1386.2,1606.3 1389.2,1606.4 1392.1,1606.4 1395,1606.4 1398,1606.3 1401,1606.2 1404.1,1606.1 1407.2,1606 1410.4,1605.9 1413.6,1605.7 1416.8,1605.3 1420,1604.7 1423.2,1603.8 1426.3,1602.8 1429.5,1601.6 1432.7,1600.2 1435.8,1598.7 1439,1597.1 1442.2,1595.3 1445.4,1593.4 1448.6,1591.3 1451.7,1589.1 1454.9,1586.7 1458,1584.3 1461,1581.7 1464,1579 1467,1576.1 1470,1573.2 1472.9,1570.3 1476,1567.5 1479.1,1564.8 1482.3,1562.2 1485.5,1559.6 1488.7,1557 1491.9,1554.5 1495.1,1551.9 1498.3,1549.4 1501.4,1546.9 1504.6,1544.4 1507.8,1541.9 1510.9,1539.3 1514.1,1536.7 1517.3,1534 1520.4,1531.2 1523.6,1528.4 1526.8,1525.5 1529.9,1522.6 1533.1,1519.6 1536.3,1516.6 1539.4,1513.5 1542.6,1510.4 1545.8,1507.2 1548.9,1504 1552.1,1500.6 1555.3,1497.2 1558.4,1493.6 1561.6,1490 1564.8,1486.3 1567.9,1482.5 1571.1,1478.5 1574.3,1474.3 1577.4,1469.8 1580.6,1465.2 1583.8,1460.6 1586.9,1456 1590.1,1451.5 1593.3,1447 1596.4,1442.6 1599.6,1438.1 1602.8,1433.7 1605.9,1429.5 1609.1,1425.5 1612.3,1421.7 1615.4,1418 1618.6,1414.5 1621.8,1411.2 1624.9,1408 1628.1,1405 1631.3,1402.2 1634.4,1399.7 1637.6,1397.3 1640.8,1395 1643.9,1392.8 1647.1,1390.5 1650.3,1388.2 1653.5,1386 1656.6,1383.7 1659.8,1381.6 1663,1379.5 1666.2,1377.5 1669.4,1375.6 1672.5,1373.7 1675.7,1371.9 1678.9,1370.2 1682,1368.7 1685.2,1367.3 1688.3,1366.2 1691.2,1365.2 1694.1,1364.4 1697.1,1363.7 1700.5,1363 1704.2,1362.2 1708.4,1361.3 1713.1,1360.5 1718.1,1359.6 1723.1,1358.7 1728.2,1357.9 1733.1,1357 1737.9,1356.2 1742.6,1355.3 1747.4,1354.5 1752.1,1353.7 1756.9,1352.8 1761.6,1351.9 1766.5,1350.9 1771.6,1349.7 1776.6,1348.5 1781.5,1347.4 1786.1,1346.3 1790.1,1345.4 1793.7,1344.6 1796.9,1344 1799.8,1343.4 1802.3,1342.9 1804.4,1342.5 1806,1342.2 1864,1342.2 1868.4,1341.5 1874.5,1340.6 1881.7,1339.4 1889.5,1338.3 1897.2,1337.1 1904.2,1336.2 1910.7,1335.4 1917,1334.7 1923.3,1334.1 1929.6,1333.5 1935.9,1332.9 1942.2,1332.3 1948.8,1331.7 1955.6,1331.1 1962.5,1330.4 1969.1,1329.9 1975.1,1329.3 1980.2,1328.9 1983.8,1328.5 1985.8,1328.3 1987.3,1328.1 1989.1,1327.9 1992.1,1327.7 1997.1,1327.6 2005.2,1327.5 2015.8,1327.4 2027.6,1327.4 2039.2,1327.4 2049.1,1327.4 2053,1327.4" fill="none" stroke="#000" stroke-width="12.5" stroke-linejoin="round" stroke-linecap="butt"/>
<polygon points="452.4,113.3 452.5,114.5 452.5,116.3 454,116.3 453.9,114.5 453.9,113.3" fill="#000" stroke="#000" stroke-width="11" stroke-linejoin="round"/>
<polygon points="2046,1329.7 2049.1,1329.7 2052,1329.7 2052,1325.2 2049.1,1325.2 2046,1325.2" fill="#000" stroke="#000" stroke-width="8" stroke-linejoin="round"/>
<g fill="#000"><rect x="444.3" y="1605" width="12" height="30.4"/><rect x="767" y="1605" width="12" height="30.4"/><rect x="1089.7" y="1605" width="12" height="30.4"/><rect x="1412.5" y="1605" width="12" height="30.4"/><rect x="1735.2" y="1605" width="12" height="30.4"/><rect x="2057.9" y="1605" width="12" height="30.4"/><rect x="605.7" y="1620" width="12" height="15.4"/><rect x="928.4" y="1620" width="12" height="15.4"/><rect x="1251.1" y="1620" width="12" height="15.4"/><rect x="1573.8" y="1620" width="12" height="15.4"/><rect x="1896.5" y="1620" width="12" height="15.4"/><rect x="288" y="848.8" width="31.2" height="12"/><rect x="288" y="613.8" width="16" height="12"/><rect x="288" y="476.3" width="16" height="12"/><rect x="288" y="378.8" width="16" height="12"/><rect x="288" y="303.1" width="16" height="12"/><rect x="288" y="241.3" width="16" height="12"/><rect x="288" y="189" width="16" height="12"/><rect x="288" y="143.8" width="16" height="12"/><rect x="288" y="103.8" width="16" height="12"/><rect x="288" y="1394.4" width="16" height="12"/><rect x="288" y="1256.9" width="16" height="12"/><rect x="288" y="1159.4" width="16" height="12"/><rect x="288" y="1083.7" width="16" height="12"/><rect x="288" y="1021.9" width="16" height="12"/><rect x="288" y="969.7" width="16" height="12"/><rect x="288" y="924.4" width="16" height="12"/><rect x="288" y="884.5" width="16" height="12"/></g>
<g fill="#000"><rect x="282" y="68.2" width="12" height="1573.5"/><rect x="282" y="68.2" width="1950.2" height="11.8"/><rect x="2219.6" y="68.2" width="12.6" height="1573.5"/><rect x="282" y="1629.1" width="1950.2" height="12.6"/></g>
<g fill="#000" font-family="'Liberation Serif', 'Times New Roman', serif"><text x="450.3" y="1736.5" font-size="89" text-anchor="middle">0.0</text>
<text x="773" y="1736.5" font-size="89" text-anchor="middle">0.2</text>
<text x="1095.7" y="1736.5" font-size="89" text-anchor="middle">0.4</text>
<text x="1418.5" y="1736.5" font-size="89" text-anchor="middle">0.6</text>
<text x="1741.2" y="1736.5" font-size="89" text-anchor="middle">0.8</text>
<text x="2063.9" y="1736.5" font-size="89" text-anchor="middle">1.0</text>
<text x="254.5" y="99.8" font-size="89" text-anchor="end">1</text>
<text x="254.5" y="880.2" font-size="89" text-anchor="end">0.1</text>
<text x="263.7" y="1648.2" font-size="89" text-anchor="end">0.01</text>
<text x="1255.7" y="1829.7" font-size="95" text-anchor="middle">x/L</text>
<text transform="translate(97.7,912.7) rotate(-90)" font-size="95">q/q<tspan font-size="68" dy="26.7">s</tspan></text>
<text x="1608.8" y="199.2" font-size="80.7">6700 grid cells</text>
<text x="1608.8" y="298.7" font-size="80.7">13,400 grid cells</text>
<text x="1608.8" y="398" font-size="80.7">26,800 grid cells</text></g>
<g id="legend"><polygon points="1405.4,174.4 1471.7,174.4 1471.7,170.4 1405.4,170.4" fill="#FF0000" stroke="#FF0000" stroke-width="9" stroke-linejoin="round"/>
<polygon points="1508.5,174.4 1520.5,174.4 1520.5,170.4 1508.5,170.4" fill="#FF0000" stroke="#FF0000" stroke-width="9" stroke-linejoin="round"/>
<polygon points="1558,174.4 1590.6,174.4 1590.6,170.4 1558,170.4" fill="#FF0000" stroke="#FF0000" stroke-width="9" stroke-linejoin="round"/>
<polygon points="1405.4,273.9 1428.5,273.9 1428.5,269.9 1405.4,269.9" fill="#246CE5" stroke="#246CE5" stroke-width="9" stroke-linejoin="round"/>
<polygon points="1460.1,273.9 1483.6,273.9 1483.6,269.9 1460.1,269.9" fill="#246CE5" stroke="#246CE5" stroke-width="9" stroke-linejoin="round"/>
<polygon points="1515.2,273.9 1537.8,273.9 1537.8,269.9 1515.2,269.9" fill="#246CE5" stroke="#246CE5" stroke-width="9" stroke-linejoin="round"/>
<polygon points="1569.4,273.9 1590.6,273.9 1590.6,269.9 1569.4,269.9" fill="#246CE5" stroke="#246CE5" stroke-width="9" stroke-linejoin="round"/>
<polygon points="1405.4,373.9 1590.6,373.9 1590.6,369.9 1405.4,369.9" fill="#000" stroke="#000" stroke-width="9" stroke-linejoin="round"/></g>
</svg>
</body></html>
